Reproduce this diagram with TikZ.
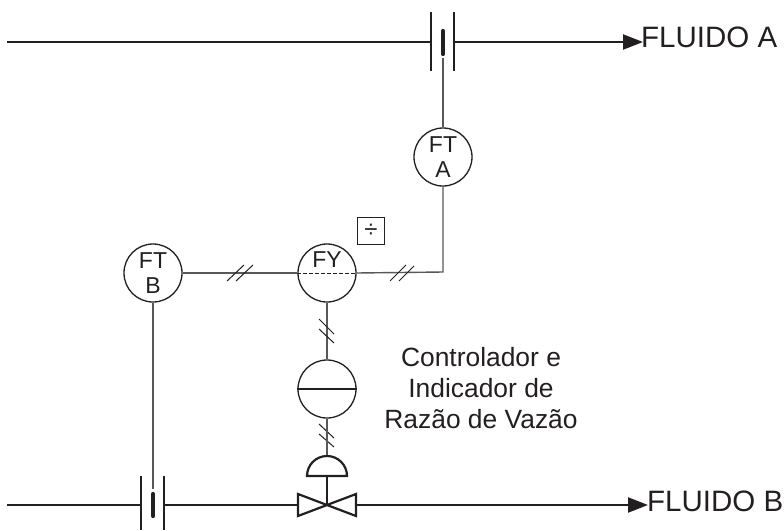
\documentclass[tikz,border=0pt]{standalone}
\usepackage{fontspec}
\setmainfont{Liberation Sans}
\usetikzlibrary{arrows.meta,calc}
\definecolor{ink}{HTML}{231F20}
\tikzset{
  x=1pt,y=-1pt,
  process/.style={draw=ink,line width=2.2pt},
  plate/.style={draw=ink,line width=2pt},
  bar/.style={draw=ink,line width=4.2pt,line cap=round},
  signal/.style={draw=ink!75,line width=1.4pt},
  inst/.style={circle,draw=ink,line width=1.3pt,minimum size=58pt,inner sep=0pt,font=\fontsize{23}{25}\selectfont,align=center,text=ink},
  tick/.style={draw=ink,line width=1pt},
  flowlabel/.style={anchor=west,inner sep=0pt,text=ink,font=\fontsize{29.5}{32}\selectfont},
  note/.style={align=center,inner sep=0pt,text=ink,font=\fontsize{26.4}{31}\selectfont},
  flowarrow/.style={-{Triangle[length=20pt,width=15pt]}},
}
\begin{document}
\begin{tikzpicture}
\useasboundingbox (0,0) rectangle (784,530);
% named points
\coordinate (aStart) at (7,42);
\coordinate (aEnd) at (643,42);
\coordinate (bStart) at (7,505);
\coordinate (bEnd) at (648,505);
\coordinate (aL) at (431,42);
\coordinate (aR) at (454,42);
\coordinate (aTap) at (443,58);
\coordinate (bL) at (141,505);
\coordinate (bR) at (164,505);
\coordinate (bTap) at (153,489);
\coordinate (corner) at (443,272);
% instruments
\node[inst] (fta) at (443,157) {FT\\A};
\node[inst] (ftb) at (153,273) {FT\\B};
\node[inst] (fy) at (327,273) {};
\node[inst] (fic) at (327,389) {};
\node[anchor=base,inner sep=0pt,text=ink,font=\fontsize{23}{25}\selectfont] (fyt) at (327,267) {FY};
\node[draw=ink,line width=1pt,minimum size=27pt,inner sep=0pt,text=ink,font=\fontsize{24}{24}\selectfont] (div) at (371,231) {÷};
% process lines
\draw[process] (aStart) -- (aL);
\draw[process,flowarrow] (aR) -- (aEnd);
\draw[process] (bStart) -- (bL);
\coordinate (vL) at (298,505);
\coordinate (vR) at (356,505);
\coordinate (vC) at (327,505);
\draw[process] (bR) -- (vL);
\draw[process,flowarrow] (vR) -- (bEnd);
% orifice plates
\draw[plate] (431,12) -- (431,71);
\draw[plate] (454,12) -- (454,71);
\draw[bar] (443,31) -- (443,54);
\draw[plate] (141,476) -- (141,530);
\draw[plate] (164,476) -- (164,530);
\draw[bar] (153,494) -- (153,516);
% signals
\draw[signal] (aTap) -- (fta.north);
\draw[signal] (fta.south) -- (corner) -- (fy.east);
\draw[signal] (ftb.east) -- (fy.west);
\draw[signal] (ftb.south) -- (bTap);
\draw[signal] (fy.south) -- (fic.north);
\draw[line width=0.9pt,draw=ink,dash pattern=on 4pt off 2pt] (fy.west) -- (fy.east);
\draw[line width=1.2pt,draw=ink] (fic.west) -- (fic.east);
% ticks
\draw[tick] (227,281) -- (244,265);
\draw[tick] (236,281) -- (253,265);
\draw[tick] (390,281) -- (406,265);
\draw[tick] (399,281) -- (414,266);
\draw[tick] (319,319) -- (334,334);
\draw[tick] (319,329) -- (334,343);
\draw[tick] (319,424) -- (334,438);
\draw[tick] (319,434) -- (334,447);
% valve
\coordinate (act) at (327,456);
\draw[signal] (fic.south) -- (act);
\draw[process,line join=miter] (307,476) arc[start angle=180,end angle=0,x radius=20,y radius=-20] -- cycle;
\draw[process] (327,476) -- (vC);
\draw[process,line join=miter] (vC) -- (298,494) -- (298,516) -- cycle;
\draw[process,line join=miter] (vC) -- (356,494) -- (356,516) -- cycle;
% labels
\node[flowlabel] (la) at (641,37) {FLUIDO A};
\node[flowlabel] (lb) at (647,501) {FLUIDO B};
\node[note] (n) at (481,388) {Controlador e\\Indicador de\\Razão de Vazão};
\end{tikzpicture}
\end{document}
